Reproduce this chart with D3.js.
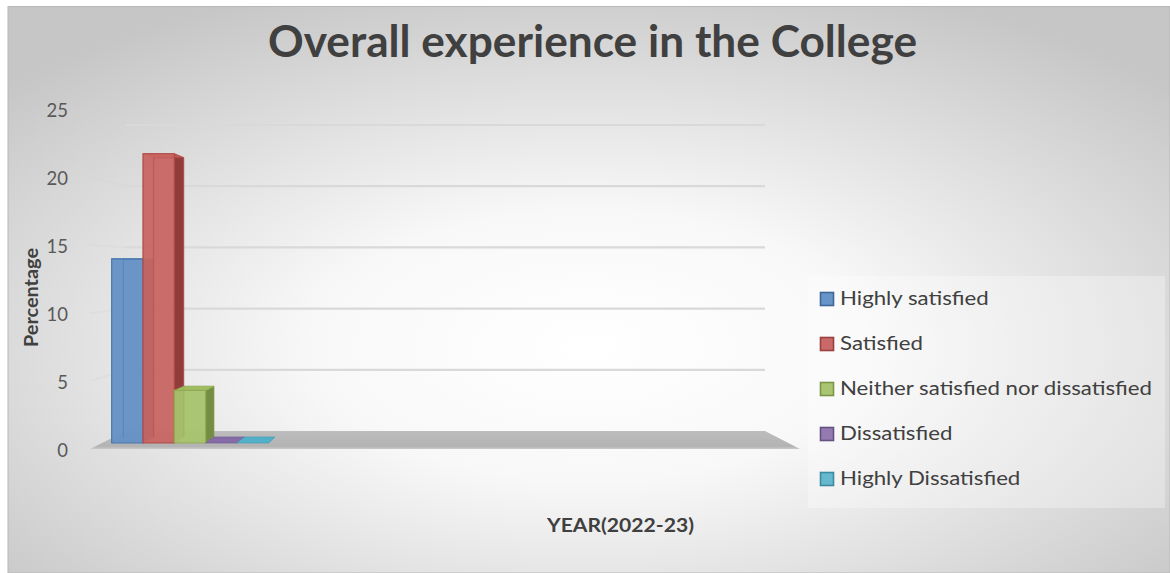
<!DOCTYPE html>
<html>
<head>
<meta charset="utf-8">
<script src="https://cdn.jsdelivr.net/npm/d3@7"></script>
<style>
  html, body { margin: 0; padding: 0; background: #ffffff; }
  svg { display: block; font-family: Lato, "Noto Sans", sans-serif; }
</style>
</head>
<body>
<svg id="chart" width="1170" height="573"></svg>
<script>
// ---------------- data ----------------
const chartTitle = "Overall experience in the College";
const categories = ["YEAR(2022-23)"];
const seriesNames = ["Highly satisfied", "Satisfied", "Neither satisfied nor dissatisfied", "Dissatisfied", "Highly Dissatisfied"];
const seriesValues = [14, 22, 4, 0, 0];
const seriesColors = ["#4F81BD", "#C0504D", "#9BBB59", "#8064A2", "#4BACC6"];
const yTicks = [0, 5, 10, 15, 20, 25];
const yAxisTitle = "Percentage";

// ---------------- setup ----------------
const W = 1170, H = 573;
const svg = d3.select("#chart");
const defs = svg.append("defs");

const bg = defs.append("radialGradient").attr("id", "bgGrad")
  .attr("cx", "50%").attr("cy", "60%").attr("r", "68%");
bg.append("stop").attr("offset", "0%").attr("stop-color", "#ffffff");
bg.append("stop").attr("offset", "35%").attr("stop-color", "#f8f8f8");
bg.append("stop").attr("offset", "100%").attr("stop-color", "#c6c6c6");

const floorGrad = defs.append("linearGradient").attr("id", "floorGrad")
  .attr("x1", "0").attr("y1", "0").attr("x2", "0").attr("y2", "1");
floorGrad.append("stop").attr("offset", "0%").attr("stop-color", "#bdbdbd");
floorGrad.append("stop").attr("offset", "85%").attr("stop-color", "#b3b3b3");
floorGrad.append("stop").attr("offset", "100%").attr("stop-color", "#c9c9c9");

// frame
svg.append("rect").attr("x", 0).attr("y", 0).attr("width", W).attr("height", H).attr("fill", "#ffffff");
svg.append("rect").attr("x", 8).attr("y", 6.5).attr("width", W - 8).attr("height", H - 6.5)
  .attr("fill", "url(#bgGrad)").attr("stroke", "#b8b8b8").attr("stroke-width", 1);

// ---------------- scales / projection ----------------
const yFront = d3.scaleLinear().domain([0, 25]).range([449, 109]);
const floorX = [90, 800];               // front-plane extent of floor/walls
const vp = [450, 269];                  // vanishing point
const depthK = z => 1 - 0.1 * z;        // z: 0 = front edge, 1 = back wall
const proj = (x, y, z) => [vp[0] + (x - vp[0]) * depthK(z), vp[1] + (y - vp[1]) * depthK(z)];
const zBarFront = 1 / 3, zBarBack = 2 / 3;

const xGroup = d3.scaleBand().domain(categories).range([100, 262]).padding(0);
const xSeries = d3.scaleBand().domain(seriesNames).range([0, xGroup.bandwidth()]).padding(0);

const line = d3.line();

// ---------------- walls: gridlines ----------------
const gGrid = svg.append("g");
yTicks.filter(t => t > 0).forEach(t => {
  const yf = yFront(t);
  // side wall
  gGrid.append("path")
    .attr("d", line([proj(floorX[0], yf, 0), proj(floorX[0], yf, 1)]))
    .attr("stroke", "#d4d4d4").attr("stroke-width", 1.5).attr("fill", "none").attr("opacity", 0.35);
  // back wall
  gGrid.append("path")
    .attr("d", line([proj(floorX[0], yf, 1), proj(floorX[1], yf, 1)]))
    .attr("stroke", "#d9d9d9").attr("stroke-width", 2.2).attr("fill", "none");
});

// floor
const y0 = yFront(0);
svg.append("path")
  .attr("d", line([proj(floorX[0], y0, 0), proj(floorX[1], y0, 0), proj(floorX[1], y0, 1), proj(floorX[0], y0, 1)]) + "Z")
  .attr("fill", "url(#floorGrad)");

// ---------------- bars ----------------
function lighten(c, t) { return d3.interpolateRgb(c, "#ffffff")(t); }
function darken(c, t) { return d3.interpolateRgb(c, "#000000")(t); }

const gBars = svg.append("g");
seriesNames.forEach((name, i) => {
  const cat = categories[0];
  const xa = xGroup(cat) + xSeries(name);
  const xb = xa + xSeries.bandwidth();
  const yb = yFront(0), yt = yFront(seriesValues[i]);
  const col = seriesColors[i];
  const g = gBars.append("g");
  const stroke = darken(col, 0.08);

  // right side face
  g.append("path")
    .attr("d", line([proj(xb, yt, zBarFront), proj(xb, yt, zBarBack), proj(xb, yb, zBarBack), proj(xb, yb, zBarFront)]) + "Z")
    .attr("fill", darken(col, 0.25)).attr("stroke", stroke).attr("stroke-width", 1).attr("stroke-opacity", 0.6);
  // top face
  g.append("path")
    .attr("d", line([proj(xa, yt, zBarFront), proj(xb, yt, zBarFront), proj(xb, yt, zBarBack), proj(xa, yt, zBarBack)]) + "Z")
    .attr("fill", lighten(col, 0.05)).attr("stroke", stroke).attr("stroke-width", 1).attr("stroke-opacity", 0.7);
  // front face
  if (seriesValues[i] > 0) {
    g.append("path")
      .attr("d", line([proj(xa, yb, zBarFront), proj(xb, yb, zBarFront), proj(xb, yt, zBarFront), proj(xa, yt, zBarFront)]) + "Z")
      .attr("fill", lighten(col, 0.12)).attr("fill-opacity", 0.95)
      .attr("stroke", stroke).attr("stroke-width", 1.2);
    // back-left edge seen through the translucent front
    g.append("path")
      .attr("d", line([proj(xa, yb, zBarBack), proj(xa, yt, zBarBack)]))
      .attr("stroke", stroke).attr("stroke-width", 1.2).attr("stroke-opacity", 0.45).attr("fill", "none");
    g.append("path")
      .attr("d", line([proj(xa, yt, zBarBack), proj(xb, yt, zBarBack)]))
      .attr("stroke", stroke).attr("stroke-width", 1).attr("stroke-opacity", 0.35).attr("fill", "none");
  }
});

// ---------------- text helpers ----------------
function fit(sel, target) {
  const n = sel.node().getComputedTextLength();
  if (n > 0) sel.attr("textLength", target).attr("lengthAdjust", "spacingAndGlyphs");
  return sel;
}

// title
fit(svg.append("text").attr("x", 592.5).attr("y", 57).attr("text-anchor", "middle")
  .attr("font-size", 43).attr("font-weight", "bold").attr("fill", "#404040").text(chartTitle), 649);

// y tick labels
svg.append("g").selectAll("text").data(yTicks).join("text")
  .attr("x", 68).attr("y", d => yFront(d) + 1).attr("dy", "0.36em")
  .attr("text-anchor", "end").attr("font-size", 18.5).attr("fill", "#595959")
  .text(d => d);

// y axis title
fit(svg.append("text").attr("transform", "translate(38,297.5) rotate(-90)").attr("text-anchor", "middle")
  .attr("font-size", 18).attr("font-weight", "bold").attr("fill", "#404040").text(yAxisTitle), 99);

// x axis title
fit(svg.append("text").attr("x", 620.5).attr("y", 532).attr("text-anchor", "middle")
  .attr("font-size", 19).attr("font-weight", "bold").attr("fill", "#404040").text(categories[0]), 147);

// ---------------- legend ----------------
const legend = svg.append("g");
legend.append("rect").attr("x", 808).attr("y", 276).attr("width", 357).attr("height", 232)
  .attr("fill", "#ffffff").attr("fill-opacity", 0.3);
const legY = d3.scalePoint().domain(seriesNames).range([305, 485]);
const items = legend.selectAll("g.item").data(seriesNames).join("g").attr("class", "item");
items.append("rect")
  .attr("x", 820.5).attr("y", d => legY(d) - 12.5).attr("width", 13).attr("height", 13)
  .attr("fill", (d, i) => lighten(seriesColors[i], 0.15))
  .attr("stroke", (d, i) => darken(seriesColors[i], 0.2)).attr("stroke-width", 1.6);
const legTexts = items.append("text")
  .attr("x", 840).attr("y", d => legY(d))
  .attr("font-size", 18.5).attr("fill", "#404040").text(d => d);
// scale all legend texts by a common factor so the longest matches the original width
let maxW = 0;
legTexts.each(function () { maxW = Math.max(maxW, this.getComputedTextLength()); });
const legFactor = 312 / maxW;
legTexts.each(function () {
  d3.select(this).attr("textLength", this.getComputedTextLength() * legFactor).attr("lengthAdjust", "spacingAndGlyphs");
});
</script>
</body>
</html>
